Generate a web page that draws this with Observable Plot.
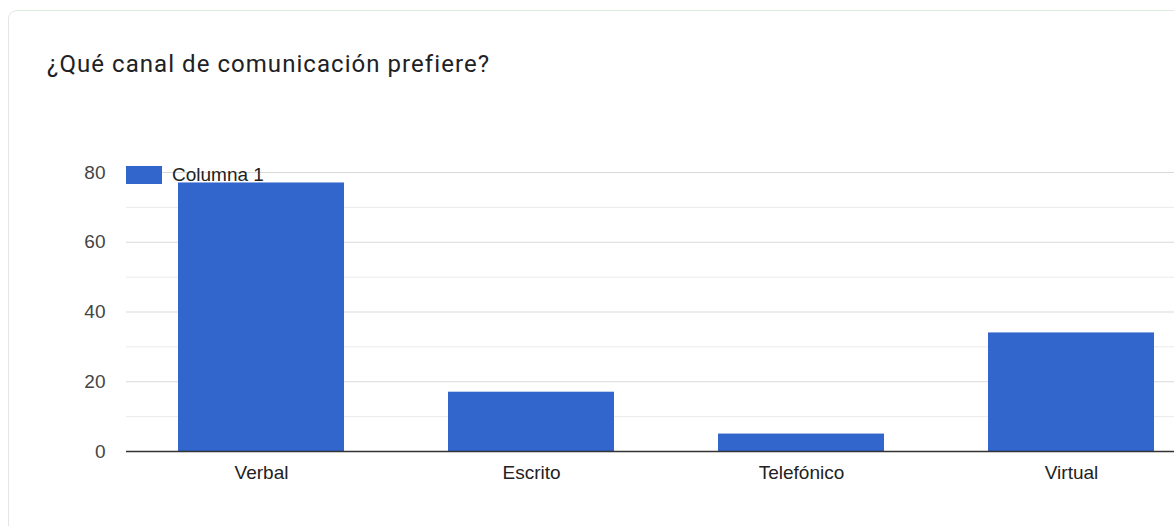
<!DOCTYPE html>
<html>
<head>
<meta charset="utf-8">
<script src="https://cdn.jsdelivr.net/npm/d3@7"></script>
<script src="https://cdn.jsdelivr.net/npm/@observablehq/plot@0.6"></script>
<style>
  html, body { margin: 0; padding: 0; background: #fff; width: 1174px; height: 526px; overflow: hidden; }
  #card { position: absolute; left: 8px; top: 10px; width: 1300px; height: 600px;
          border: 1.5px solid #e3e6e3; border-top-color: #dcebdc; border-radius: 9px; background: #fff; }
  #title { position: absolute; left: 47px; top: 50px; font-family: Roboto, "Open Sans", sans-serif;
           font-size: 24px; letter-spacing: 1.05px; line-height: 28px; color: #202124; white-space: nowrap; }
  #chart { position: absolute; left: 0; top: 152px; width: 1206px; }
  #chart svg { max-width: none !important; }
  #legend { position: absolute; left: 126px; top: 166px; height: 18px; display: flex; align-items: center;
            font-family: "Liberation Sans", Arial, sans-serif; font-size: 19px; color: #222; }
  #legend .sw { width: 36px; height: 18px; background: #3366cc; margin-right: 10px; }
</style>
</head>
<body>
<div id="card"></div>
<div id="title">¿Qué canal de comunicación prefiere?</div>
<div id="chart"></div>
<div id="legend"><span class="sw"></span><span id="legtext">Columna 1</span></div>
<script>
const categories = ["Verbal", "Escrito", "Telefónico", "Virtual"];
const values = [77, 17, 5, 34];
const seriesName = "Columna 1";
const majorTicks = [0, 20, 40, 60, 80];
const minorTicks = [10, 30, 50, 70];

const data = categories.map((c, i) => ({category: c, value: values[i]}));

const chart = Plot.plot({
  width: 1206,
  height: 339,
  marginLeft: 126,
  marginRight: 0,
  marginTop: 20,
  marginBottom: 40,
  style: {fontFamily: '"Liberation Sans", Arial, sans-serif', fontSize: "19px", background: "transparent", maxWidth: "none"},
  x: {domain: categories, paddingInner: 0.385, paddingOuter: 0.1925, label: null},
  y: {domain: [0, 80], label: null},
  marks: [
    Plot.ruleY(minorTicks, {stroke: "#ebebeb", strokeWidth: 1}),
    Plot.ruleY(majorTicks.filter(d => d !== 0), {stroke: "#d9d9d9", strokeWidth: 1}),
    Plot.barY(data, {x: "category", y: "value", fill: "#3366cc"}),
    Plot.ruleY([0], {stroke: "#333", strokeWidth: 1.5}),
    Plot.axisY({ticks: majorTicks, tickSize: 0, tickPadding: 21, fontSize: 19, fill: "#444", label: null}),
    Plot.axisX({tickSize: 0, tickPadding: 14, fontSize: 19, fill: "#222", label: null})
  ]
});
document.getElementById("chart").appendChild(chart);
document.getElementById("legtext").textContent = seriesName;
</script>
</body>
</html>
